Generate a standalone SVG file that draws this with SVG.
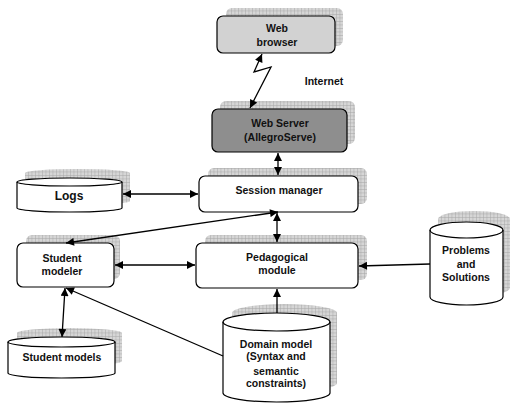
<svg xmlns="http://www.w3.org/2000/svg" width="520" height="403" viewBox="0 0 520 403">
<defs>
<pattern id="grid" width="3.5" height="3.5" patternUnits="userSpaceOnUse">
<rect width="3.5" height="3.5" fill="#d6d6d6"/>
<path d="M0 0.25H3.5M0.25 0V3.5" stroke="#a4a4a4" stroke-width="0.6"/>
</pattern>
<marker id="ah" viewBox="0 0 10 10" refX="10" refY="5" markerWidth="9" markerHeight="8" markerUnits="userSpaceOnUse" orient="auto-start-reverse">
<path d="M0 0L10 5L0 10Z" fill="#000"/>
</marker>
</defs>
<style>
.sh{fill:url(#grid);stroke:none}
.bx{fill:#fff;stroke:#000;stroke-width:1.2}
.t{font-family:"Liberation Sans",Arial,sans-serif;font-weight:bold;font-size:10.5px;text-anchor:middle;fill:#111}
.c{fill:none;stroke:#000;stroke-width:1.3}
</style>
<rect width="520" height="403" fill="#fff"/>

<g id="web-browser">
<rect class="sh" x="226" y="8" width="117" height="38" rx="6"/>
<rect class="bx" x="217" y="16" width="118" height="37" rx="6" fill="#d2d2d2" style="fill:#d2d2d2"/>
<text class="t" x="277" y="32">Web</text>
<text class="t" x="277" y="46">browser</text>
</g>

<text class="t" x="324" y="85">Internet</text>

<g id="web-server">
<rect class="sh" x="220" y="101" width="135" height="43" rx="6"/>
<rect class="bx" x="212" y="109" width="135" height="43" rx="6" style="fill:#8e8e8e"/>
<text class="t" x="280" y="127">Web Server</text>
<text class="t" x="280" y="141">(AllegroServe)</text>
</g>

<g id="session-manager">
<rect class="sh" x="208" y="168" width="159" height="36" rx="6"/>
<rect class="bx" x="199" y="176" width="159" height="36" rx="6"/>
<text class="t" x="279" y="194">Session manager</text>
</g>

<g id="pedagogical-module">
<rect class="sh" x="205" y="235" width="162" height="45" rx="6"/>
<rect class="bx" x="196" y="243" width="162" height="45" rx="6"/>
<text class="t" x="277" y="261">Pedagogical</text>
<text class="t" x="277" y="274">module</text>
</g>

<g id="student-modeler">
<rect class="sh" x="26" y="235" width="94" height="44" rx="6"/>
<rect class="bx" x="17" y="243" width="97" height="44" rx="6"/>
<text class="t" x="62" y="262">Student</text>
<text class="t" x="62" y="275">modeler</text>
</g>

<g id="logs">
<path class="sh" d="M25 173A52.5 4 0 0 1 130 173V201A52.5 4 0 0 1 25 201Z"/>
<path class="bx" d="M17 182A52.5 4 0 0 1 122 182V208A52.5 4 0 0 1 17 208Z"/>
<path class="bx" d="M17 182A52.5 4 0 0 0 122 182" style="fill:none"/>
<text class="t" x="69" y="200" style="font-size:12px">Logs</text>
</g>

<g id="problems-and-solutions">
<path class="sh" d="M438 219A36 8 0 0 1 510 219V288A36 8 0 0 1 438 288Z"/>
<path class="bx" d="M430 230A36.5 8 0 0 1 503 230V297A36.5 8 0 0 1 430 297Z"/>
<path class="bx" d="M430 230A36.5 8 0 0 0 503 230" style="fill:none"/>
<text class="t" x="466" y="254">Problems</text>
<text class="t" x="466" y="268">and</text>
<text class="t" x="466" y="281">Solutions</text>
</g>

<g id="student-models">
<path class="sh" d="M17 333A52.5 5 0 0 1 122 333V361A52.5 5 0 0 1 17 361Z"/>
<path class="bx" d="M8 342A53.5 5 0 0 1 115 342V373A53.5 5 0 0 1 8 373Z"/>
<path class="bx" d="M8 342A53.5 5 0 0 0 115 342" style="fill:none"/>
<text class="t" x="62" y="361">Student models</text>
</g>

<g id="domain-model">
<path class="sh" d="M232 313A52.5 9 0 0 1 337 313V383A52.5 9 0 0 1 232 383Z"/>
<path class="bx" d="M223 322A53.5 9 0 0 1 330 322V393A53.5 9 0 0 1 223 393Z"/>
<path class="bx" d="M223 322A53.5 9 0 0 0 330 322" style="fill:none"/>
<text class="t" x="276" y="348">Domain model</text>
<text class="t" x="276" y="360">(Syntax and</text>
<text class="t" x="276" y="375">semantic</text>
<text class="t" x="276" y="387">constraints)</text>
</g>

<g id="connectors">
<path class="c" d="M262 54L254 72L271 67L250 108" marker-start="url(#ah)" marker-end="url(#ah)"/>
<path class="c" d="M278 153V175" marker-start="url(#ah)" marker-end="url(#ah)"/>
<path class="c" d="M123 194H198" marker-start="url(#ah)" marker-end="url(#ah)"/>
<path class="c" d="M278 212L66 243" marker-start="url(#ah)" marker-end="url(#ah)"/>
<path class="c" d="M277 213V242" marker-start="url(#ah)" marker-end="url(#ah)"/>
<path class="c" d="M115 265H195" marker-start="url(#ah)" marker-end="url(#ah)"/>
<path class="c" d="M430 264L359 266" marker-end="url(#ah)"/>
<path class="c" d="M277 313V289" marker-end="url(#ah)"/>
<path class="c" d="M223 356L66 288" marker-end="url(#ah)"/>
<path class="c" d="M65 288L62 337" marker-start="url(#ah)" marker-end="url(#ah)"/>
</g>
</svg>
